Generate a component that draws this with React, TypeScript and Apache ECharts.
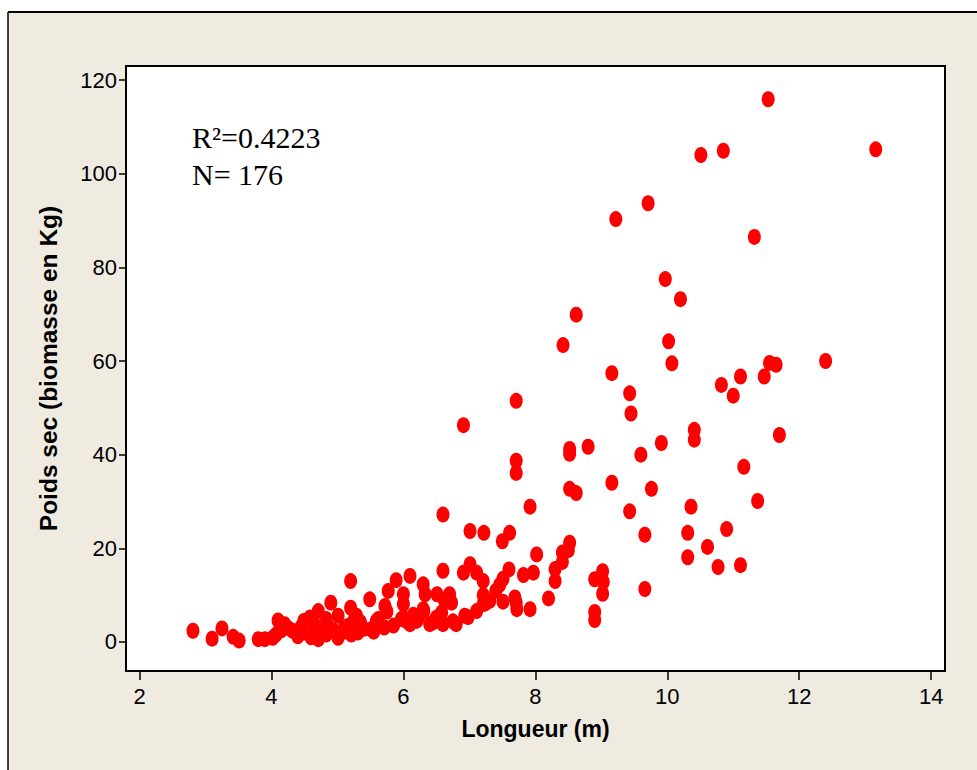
import React, { useEffect, useRef } from "react";
import * as echarts from "echarts";

// Longueur (m)
const longueur = [
  2.81, 3.10, 3.25, 3.42, 3.51, 3.80, 3.90, 4.02, 4.07, 4.10,
  4.15, 4.20, 4.32, 4.25, 4.49, 4.49, 4.45, 4.58, 4.71, 4.71,
  4.71, 4.65, 4.83, 4.83, 4.90, 4.88, 5.01, 5.01, 5.01, 5.11,
  5.16, 5.20, 5.20, 5.21, 5.29, 5.31, 5.35, 5.49, 5.51, 5.59,
  5.62, 5.71, 5.72, 5.75, 5.77, 5.89, 6.00, 6.00, 5.97, 6.00,
  6.10, 6.10, 6.20, 6.30, 6.33, 6.30, 6.22, 6.40, 6.31, 6.51,
  6.60, 6.68, 6.73, 6.58, 6.60, 6.80, 6.93, 6.91, 7.01, 7.11,
  7.21, 7.11, 7.21, 6.60, 6.91, 7.01, 7.22, 7.92, 7.50, 7.61,
  8.02, 8.52, 8.50, 8.41, 8.41, 8.30, 8.30, 8.20, 7.97, 7.82,
  7.60, 7.51, 7.46, 7.40, 7.51, 7.69, 7.71, 7.72, 7.92, 7.31,
  7.24, 6.98, 6.75, 6.70, 6.70, 6.62, 6.50, 8.90, 9.02, 9.03,
  9.02, 8.90, 8.90, 8.52, 8.62, 7.71, 7.71, 7.71, 8.42, 8.62,
  8.52, 8.52, 8.80, 9.16, 9.43, 9.45, 9.16, 9.60, 11.53, 10.51,
  10.85, 13.16, 9.71, 9.22, 11.32, 9.97, 10.20, 10.02, 10.07, 10.82,
  11.11, 11.00, 11.47, 11.55, 11.65, 12.40, 10.41, 10.41, 11.70, 9.91,
  11.16, 9.76, 9.43, 10.36, 11.37, 9.66, 10.31, 10.90, 10.61, 10.31,
  10.77, 11.11, 9.66, 7.21, 4.40, 4.60, 5.10, 5.40, 5.55, 5.85,
  6.05, 6.15, 6.45, 6.55, 5.25, 4.95,
];

// Poids sec (kg)
const poids = [
  2.4, 0.7, 2.9, 1.1, 0.3, 0.6, 0.6, 0.9, 1.6, 4.6,
  2.5, 3.8, 2.4, 3.0, 4.5, 2.0, 3.2, 5.2, 6.6, 0.6,
  2.4, 3.8, 1.6, 4.9, 8.4, 3.0, 5.6, 0.9, 1.3, 3.1,
  3.4, 13.0, 7.3, 1.6, 5.6, 2.0, 4.2, 9.1, 2.7, 4.5,
  4.9, 3.1, 7.7, 6.5, 10.9, 13.2, 10.2, 8.1, 4.9, 5.2,
  14.1, 3.8, 4.5, 12.3, 10.2, 7.0, 4.9, 3.8, 6.6, 10.2,
  15.2, 9.5, 8.4, 6.3, 3.8, 3.8, 5.6, 14.8, 16.6, 14.8,
  13.0, 6.6, 8.1, 27.2, 46.3, 23.7, 23.3, 28.9, 21.5, 23.3,
  18.7, 21.2, 19.6, 19.1, 17.1, 15.6, 13.0, 9.3, 14.8, 14.3,
  15.5, 13.5, 12.2, 10.9, 8.6, 9.5, 8.4, 7.0, 7.0, 8.8,
  8.2, 5.3, 4.4, 10.2, 8.8, 9.0, 5.2, 13.4, 15.1, 12.8,
  10.3, 6.4, 4.7, 32.7, 31.8, 38.7, 36.1, 51.5, 63.4, 69.9,
  41.2, 40.2, 41.7, 57.4, 53.1, 48.8, 34.0, 40.0, 115.9, 104.0,
  104.9, 105.2, 93.7, 90.3, 86.5, 77.5, 73.2, 64.2, 59.5, 54.9,
  56.7, 52.6, 56.7, 59.6, 59.2, 60.0, 45.3, 43.2, 44.2, 42.5,
  37.4, 32.7, 27.9, 28.9, 30.1, 22.9, 23.3, 24.1, 20.3, 18.1,
  16.0, 16.4, 11.3, 10.0, 1.2, 1.0, 2.2, 2.8, 2.2, 3.5,
  4.4, 5.8, 4.2, 4.6, 4.6, 2.4,
];

const xTicks = [2, 4, 6, 8, 10, 12, 14];
const yTicks = [0, 20, 40, 60, 80, 100, 120];
const xTitle = "Longueur (m)";
const yTitle = "Poids sec (biomasse en Kg)";
const statLines = ["R²=0.4223", "N= 176"];

export default function App() {
  const ref = useRef<HTMLDivElement>(null);

  useEffect(() => {
    if (!ref.current) return;
    const chart = echarts.init(ref.current, null, { renderer: "svg" });
    const points = longueur.map((x, i) => [x, poids[i]]);
    const tickFont = {
      fontFamily: "Liberation Sans",
      fontSize: 22,
      color: "#000",
    };
    chart.setOption({
      animation: false,
      backgroundColor: "#EFEBE1",
      grid: {
        left: 126,
        top: 66,
        width: 819,
        height: 605,
        show: true,
        backgroundColor: "#ffffff",
        borderColor: "#000",
        borderWidth: 2,
        containLabel: false,
        outerBoundsMode: "none",
      },
      xAxis: {
        type: "value",
        min: 1.795,
        max: 14.21,
        name: xTitle,
        nameLocation: "middle",
        nameGap: 46,
        nameTextStyle: {
          fontFamily: "Liberation Sans",
          fontWeight: "bold",
          fontSize: 23,
          color: "#000",
        },
        axisLine: { show: false, onZero: false },
        splitLine: { show: false },
        axisTick: {
          show: true,
          length: 9,
          customValues: xTicks,
          lineStyle: { color: "#000", width: 1.5 },
        },
        axisLabel: { ...tickFont, margin: 14, customValues: xTicks },
      },
      yAxis: {
        type: "value",
        min: -6.2,
        max: 123.0,
        name: yTitle,
        nameLocation: "middle",
        nameRotate: 90,
        nameGap: 65,
        nameTextStyle: {
          fontFamily: "Liberation Sans",
          fontWeight: "bold",
          fontSize: 24.5,
          color: "#000",
        },
        axisLine: { show: false, onZero: false },
        splitLine: { show: false },
        axisTick: {
          show: true,
          length: 7,
          customValues: yTicks,
          lineStyle: { color: "#000", width: 1.5 },
        },
        axisLabel: { ...tickFont, margin: 9, customValues: yTicks },
      },
      graphic: [
        { type: "rect", shape: { x: 0, y: 0, width: 977, height: 12 }, style: { fill: "#ffffff" }, silent: true },
        { type: "rect", shape: { x: 0, y: 0, width: 8, height: 770 }, style: { fill: "#ffffff" }, silent: true },
        { type: "line", shape: { x1: 8, y1: 12, x2: 977, y2: 12 }, style: { stroke: "#000", lineWidth: 2 }, silent: true },
        { type: "line", shape: { x1: 8, y1: 12, x2: 8, y2: 770 }, style: { stroke: "#000", lineWidth: 1.5 }, silent: true },
        {
          type: "text",
          x: 192,
          y: 137,
          style: {
            text: statLines[0],
            fontFamily: "Liberation Serif",
            fontSize: 30,
            fill: "#000",
            verticalAlign: "middle",
            align: "left",
          },
        },
        {
          type: "text",
          x: 192,
          y: 174,
          style: {
            text: statLines[1],
            fontFamily: "Liberation Serif",
            fontSize: 30,
            fill: "#000",
            verticalAlign: "middle",
            align: "left",
          },
        },
      ],
      series: [
        {
          type: "scatter",
          data: points,
          symbol: "circle",
          symbolSize: [13, 16],
          itemStyle: { color: "#FF0000", opacity: 1 },
          emphasis: { disabled: true },
        },
      ],
    });
    return () => chart.dispose();
  }, []);

  return (
    <div
      ref={ref}
      style={{ position: "absolute", left: 0, top: 0, width: 977, height: 770, background: "#fff" }}
    />
  );
}
